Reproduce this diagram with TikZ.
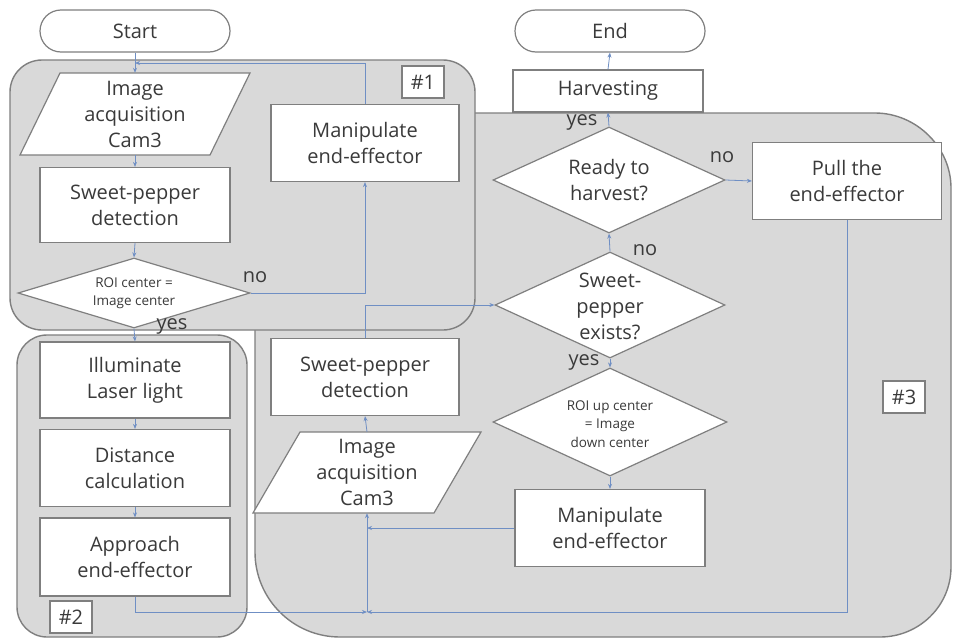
\documentclass[tikz,border=0pt]{standalone}
\usepackage{fontspec}
\setmainfont{Open Sans}
\usetikzlibrary{shapes.geometric,arrows.meta}
\definecolor{grp}{HTML}{D9D9D9}
\definecolor{edge}{HTML}{7F7F7F}
\definecolor{ink}{HTML}{3A3A3A}
\definecolor{wire}{HTML}{6F8FC4}
\tikzset{
  txt/.style={text=ink, font=\fontsize{20}{26}\selectfont, align=center, inner sep=0pt},
  small/.style={txt, font=\fontsize{13.5}{18.5}\selectfont},
  stepbox/.style={txt, draw=edge, line width=1.2pt, fill=white},
  term/.style={txt, draw=edge, line width=1.2pt, fill=white, rounded corners=21pt,
    minimum width=190, minimum height=42},
  decision/.style={diamond, draw=edge, line width=1.2pt, fill=white, inner sep=0pt},
  iobox/.style={draw=edge, line width=1.2pt, fill=white},
  group/.style={draw=edge, line width=1.4pt, fill=grp},
  tag/.style={txt, draw=edge, line width=1.1pt, fill=white, minimum width=42, minimum height=32},
  conn/.style={draw=wire, line width=0.8pt, -{Stealth[length=5pt,width=4pt]}},
}
\begin{document}
\begin{tikzpicture}[x=1pt,y=-1pt]
\useasboundingbox (0,0) rectangle (953,640);
\fill[white] (0,0) rectangle (953,640);

% group #3 (L-shaped, behind group #1): fill the whole area, stroke the open outline
\fill[grp] (440,113) -- (875,113) .. controls (916,113) and (951,147) .. (951,188)
  -- (951,567) .. controls (951,606) and (919,637) .. (880,637)
  -- (340,637) .. controls (293,637) and (255,599) .. (255,552)
  -- (255,280) -- (440,280) -- cycle;
\draw[draw=edge, line width=1.4pt] (475,113) -- (875,113) .. controls (916,113) and (951,147) .. (951,188)
  -- (951,567) .. controls (951,606) and (919,637) .. (880,637)
  -- (340,637) .. controls (293,637) and (255,599) .. (255,552)
  -- (255,328);
% group #1
\draw[group, rounded corners=32pt] (10,60) rectangle (475,330);
% group #2
\draw[group, rounded corners=30pt] (17,335) rectangle (247,637);

% group tags
\node[tag] (tag1) at (423,82) {\#1};
\node[tag] (tag2) at (71,617) {\#2};
\node[tag] (tag3) at (904,397) {\#3};

% terminals
\node[term] (start) at (135,31) {Start};
\node[term] (end) at (610,31) {End};

% left column
\draw[iobox] (60,73) -- (250,73) -- (210,155) -- (20,155) -- cycle;
\node[txt, minimum width=150, minimum height=82] (ia1) at (135,114) {Image\\acquisition\\Cam3};
\node[stepbox, minimum width=190, minimum height=75] (spd1) at (135,205) {Sweet-pepper\\detection};
\node[decision, minimum width=232, minimum height=70] (d1) at (134,293) {};
\node[small] (d1t) at (134,293) {ROI center =\\Image center};

\node[stepbox, minimum width=190, minimum height=76] (ill) at (135,380) {Illuminate\\Laser light};
\node[stepbox, minimum width=190, minimum height=77] (dist) at (135,468) {Distance\\calculation};
\node[stepbox, minimum width=190, minimum height=78] (appr) at (135,557) {Approach\\end-effector};

\node[stepbox, minimum width=188, minimum height=77] (man1) at (365,143) {Manipulate\\end-effector};

% middle column of #3
\node[stepbox, minimum width=188, minimum height=77] (spd2) at (365,377) {Sweet-pepper\\detection};
\draw[iobox] (300,432) -- (481,432) -- (434,513) -- (253,513) -- cycle;
\node[txt, minimum width=150, minimum height=81] (ia2) at (367,472.5) {Image\\acquisition\\Cam3};

% right part
\node[stepbox, minimum width=190, minimum height=42] (harv) at (608,91) {Harvesting};
\node[decision, minimum width=232, minimum height=106] (ready) at (609,180) {};
\node[txt] (readyt) at (609,180) {Ready to\\harvest?};
\node[decision, minimum width=230, minimum height=106] (se) at (610,305) {};
\node[txt] (set) at (610,306) {Sweet-\\pepper\\exists?};
\node[decision, minimum width=234, minimum height=108] (roi2) at (610,422) {};
\node[small] (roi2t) at (610,424) {ROI up center\\= Image\\down center};
\node[stepbox, minimum width=190, minimum height=77] (man2) at (610,528) {Manipulate\\end-effector};
\node[stepbox, minimum width=189, minimum height=77] (pull) at (847,181) {Pull the\\end-effector};

% junctions
\coordinate (j1) at (135,63);
\coordinate (j2) at (367,612);

% connectors
\draw[conn] (start.south) -- (ia1.north);
\draw[conn] (ia1.south) -- (spd1.north);
\draw[conn] (spd1.south) -- (d1.north);
\draw[conn] (d1.south) -- (ill.north);
\draw[conn] (ill.south) -- (dist.north);
\draw[conn] (dist.south) -- (appr.north);
\draw[conn] (d1.east) -| (man1.south);
\draw[conn] (man1.north) |- (j1);

\draw[conn] (appr.south) |- (j2);
\draw[conn] (pull.south) |- (j2);
\draw[conn] (j2) -- (ia2.south);
\draw[conn] (man2.west) -- (man2.west -| ia2.south);
\draw[conn] (ia2.north) -- (spd2.south);
\draw[conn] (spd2.north) |- (se.west);
\draw[conn] (se.south) -- (roi2.north);
\draw[conn] (roi2.south) -- (man2.north);
\draw[conn] (se.north) -- (ready.south);
\draw[conn] (ready.north) -- (harv.south);
\draw[conn] (harv.north) -- (end.south);
\draw[conn] (ready.east) -- (pull.west);

% branch labels
\node[txt] (l1) at (255,277) {no};
\node[txt] (l2) at (172,326) {yes};
\node[txt] (l3) at (582,122) {yes};
\node[txt] (l4) at (722,157) {no};
\node[txt] (l5) at (645,250) {no};
\node[txt] (l6) at (584,362) {yes};
\end{tikzpicture}
\end{document}
